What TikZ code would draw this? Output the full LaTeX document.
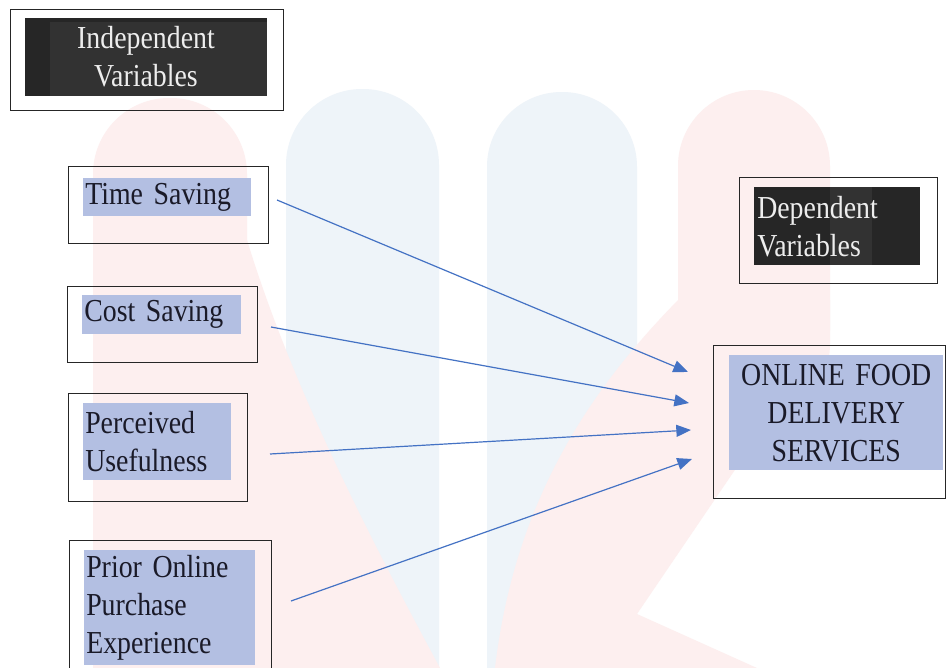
\documentclass[tikz,border=0pt]{standalone}
\usepackage{fontspec}
\setmainfont[FakeStretch=0.87,WordSpace=0.7]{Liberation Serif}
\usetikzlibrary{arrows.meta}
\definecolor{hl}{HTML}{B3BFE2}
\definecolor{darkA}{HTML}{262626}
\definecolor{darkB}{HTML}{323232}
\definecolor{arr}{HTML}{4472C4}
\definecolor{wmpink}{HTML}{FDEFEF}
\definecolor{wmblue}{HTML}{EEF4F9}
\definecolor{ink}{HTML}{1A1A28}
\begin{document}
\begin{tikzpicture}[x=0.75pt,y=-0.75pt,
  every node/.style={font=\fontsize{24}{28.5}\selectfont},
  box/.style={draw=black!85, line width=1.1pt, anchor=north west, inner sep=0pt},
  hlbox/.style={anchor=north west, fill=hl, text=ink, align=left, inner xsep=1.5pt, inner ysep=0pt},
  darktext/.style={text=white!93!black, inner sep=0pt},
  conn/.style={draw=arr, line width=0.9pt, -{Triangle[length=11pt,width=9pt]}}]
\clip (0,0) rectangle (947,668);
\fill[white] (0,0) rectangle (947,668);
% watermark
\fill[wmblue, rounded corners=57pt] (286,89) rectangle (439,800);
\fill[wmblue, rounded corners=56pt] (487,92) rectangle (637,800);
\fill[wmpink, rounded corners=57pt] (93,98) rectangle (247,800);
\fill[wmpink] (247,240) .. controls (290,380) and (360,520) .. (440,668) -- (247,668) -- cycle;
\fill[wmpink, rounded corners=57pt] (678,90) rectangle (830,420);
\fill[wmpink] (678,300) -- (830,300) -- (830,330) -- (637,614) -- (757,668) -- (495,668)
   .. controls (515,500) and (590,390) .. (678,300) -- cycle;
% outer boxes
\node[box, minimum width=204.75pt, minimum height=75.75pt] (indbox) at (10,9) {};
\node[box, minimum width=150pt, minimum height=57.75pt] (tsbox) at (68,166) {};
\node[box, minimum width=142.5pt, minimum height=57pt] (csbox) at (67,286) {};
\node[box, minimum width=134.25pt, minimum height=81pt] (pubox) at (68,393) {};
\node[box, minimum width=151.5pt, minimum height=105pt] (popbox) at (69,540) {};
\node[box, minimum width=148.5pt, minimum height=79.5pt] (depbox) at (739,177) {};
\node[box, minimum width=174pt, minimum height=114.75pt] (ofdbox) at (713,345) {};
% dark title fills
\fill[darkA] (25,18) rectangle (267,96);
\fill[darkB] (50,22) rectangle (267,96);
\fill[darkA] (754,187) rectangle (920,265);
\fill[darkB] (830,187) rectangle (872,265);
\node[darktext, align=center, text width=181.5pt] (indvar) at (146,57) {Independent\\Variables};
\node[darktext, align=left, anchor=north west, text width=120pt, minimum height=58.5pt] (depvar) at (757,187) {Dependent\\Variables};
% highlighted labels
\node[hlbox, minimum width=126pt, minimum height=28.5pt, text width=123pt] (ts) at (83,178) {Time Saving};
\node[hlbox, minimum width=119.25pt, minimum height=29.25pt, text width=116.25pt] (cs) at (82,295) {Cost Saving};
\node[hlbox, minimum width=111pt, minimum height=57.75pt, text width=108pt] (pu) at (83,403) {Perceived\\Usefulness};
\node[hlbox, minimum width=128.25pt, minimum height=86.25pt, text width=125.25pt] (pop) at (84,550) {Prior Online\\Purchase\\Experience};
\node[hlbox, align=center, minimum width=160.5pt, minimum height=86.25pt, text width=157.5pt] (ofd) at (729,355) {ONLINE FOOD\\DELIVERY\\SERVICES};
% connector ends
\coordinate (s1) at (277,200);
\coordinate (s2) at (271,327);
\coordinate (s3) at (270,454);
\coordinate (s4) at (291,601);
\coordinate (t1) at (688,372);
\coordinate (t2) at (689,403);
\coordinate (t3) at (691,430);
\coordinate (t4) at (692,459);
\draw[conn] (s1) -- (t1);
\draw[conn] (s2) -- (t2);
\draw[conn] (s3) -- (t3);
\draw[conn] (s4) -- (t4);
\end{tikzpicture}
\end{document}
